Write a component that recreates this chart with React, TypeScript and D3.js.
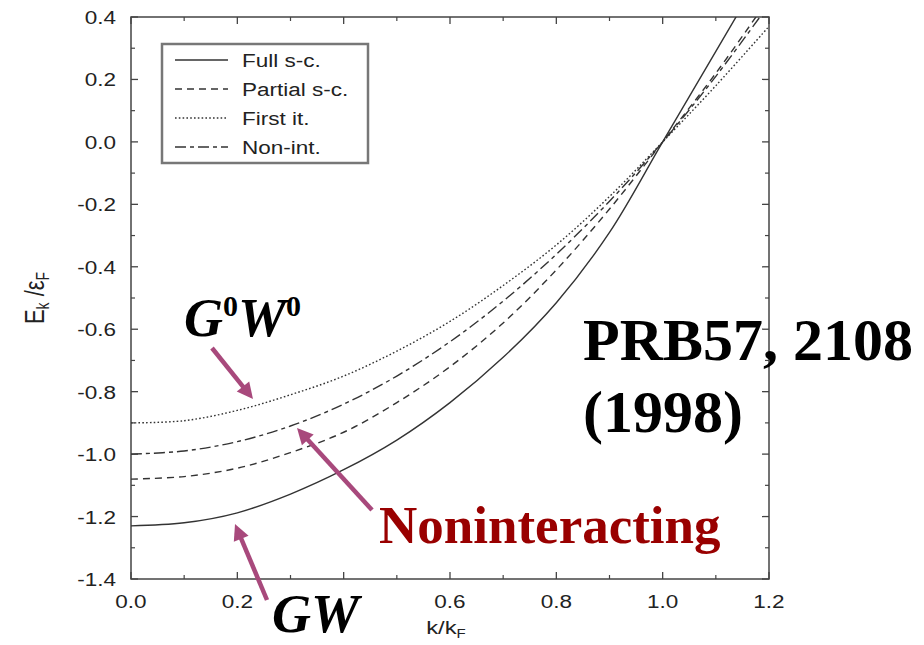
import React from "react";
import * as d3 from "d3";

const kValues = [0, 0.1, 0.2, 0.3, 0.4, 0.5, 0.6, 0.7, 0.8, 0.9, 1.0, 1.1, 1.2];
const fullSC = [-1.23, -1.22, -1.188, -1.128, -1.05, -0.955, -0.835, -0.69, -0.515, -0.29, 0.0, 0.29, 0.58];
const partialSC = [-1.08, -1.072, -1.045, -0.995, -0.93, -0.835, -0.72, -0.58, -0.41, -0.215, 0.0, 0.22, 0.46];
const firstIt = [-0.9, -0.893, -0.86, -0.81, -0.75, -0.67, -0.575, -0.46, -0.33, -0.175, 0.0, 0.18, 0.37];
const nonInt = [-1.0, -0.99, -0.96, -0.91, -0.84, -0.75, -0.64, -0.51, -0.36, -0.19, 0.0, 0.21, 0.44];

const xTickLabels = ["0.0", "0.2", "0.4", "0.6", "0.8", "1.0", "1.2"];
const yTickLabels = ["0.4", "0.2", "0.0", "-0.2", "-0.4", "-0.6", "-0.8", "-1.0", "-1.2", "-1.4"];
const legendLabels = ["Full s-c.", "Partial s-c.", "First it.", "Non-int."];

const X0 = 131, X1 = 769, Y0 = 17, Y1 = 579;
const SX = 1.25;
const ARROW = "#a8497c";

function Arrow({ x1, y1, x2, y2 }: { x1: number; y1: number; x2: number; y2: number }) {
  const ang = Math.atan2(y2 - y1, x2 - x1);
  const hl = 16, hw = 8;
  const bx = x2 - hl * Math.cos(ang), by = y2 - hl * Math.sin(ang);
  const px = -Math.sin(ang) * hw, py = Math.cos(ang) * hw;
  return (
    <g>
      <line x1={x1} y1={y1} x2={bx + Math.cos(ang) * 2} y2={by + Math.sin(ang) * 2} stroke={ARROW} strokeWidth={4.5} />
      <path d={`M${x2},${y2} L${bx + px},${by + py} L${bx - px},${by - py} Z`} fill={ARROW} />
    </g>
  );
}

export default function App() {
  const x = d3.scaleLinear().domain([0, 1.2]).range([X0, X1]);
  const y = d3.scaleLinear().domain([-1.4, 0.4]).range([Y1, Y0]);
  const line = d3
    .line<number>()
    .x((_, i) => x(kValues[i]))
    .y((d) => y(d))
    .curve(d3.curveCatmullRom.alpha(0.5));

  const series = [
    { vals: fullSC, dash: "none" },
    { vals: partialSC, dash: "7,5" },
    { vals: firstIt, dash: "1.6,2.2" },
    { vals: nonInt, dash: "11,4,4,4" },
  ];

  const xMajor = d3.range(0, 1.2001, 0.2);
  const xMinor = d3.range(0.1, 1.2, 0.2);
  const yMajor = d3.range(-1.4, 0.4001, 0.2);
  const yMinor = d3.range(-1.3, 0.4, 0.2);
  const font = "'Liberation Sans', Arial, Helvetica, sans-serif";
  const serif = "'Liberation Serif', 'Times New Roman', serif";
  const axisC = "#444";

  return (
    <svg width={924} height={645} style={{ position: "absolute", left: 0, top: 0, background: "#fff" }}>
      <defs>
        <clipPath id="plot">
          <rect x={X0} y={Y0} width={X1 - X0} height={Y1 - Y0} />
        </clipPath>
      </defs>
      <rect x={X0} y={Y0} width={X1 - X0} height={Y1 - Y0} fill="none" stroke={axisC} strokeWidth={1.5} />
      {xMajor.map((v, i) => (
        <g key={"xM" + i}>
          <line x1={x(v)} x2={x(v)} y1={Y1} y2={Y1 - 7} stroke={axisC} strokeWidth={1.3} />
          <line x1={x(v)} x2={x(v)} y1={Y0} y2={Y0 + 7} stroke={axisC} strokeWidth={1.3} />
        </g>
      ))}
      {xMinor.map((v, i) => (
        <g key={"xm" + i}>
          <line x1={x(v)} x2={x(v)} y1={Y1} y2={Y1 - 4} stroke={axisC} strokeWidth={1.2} />
          <line x1={x(v)} x2={x(v)} y1={Y0} y2={Y0 + 4} stroke={axisC} strokeWidth={1.2} />
        </g>
      ))}
      {yMajor.map((v, i) => (
        <g key={"yM" + i}>
          <line x1={X0} x2={X0 + 7} y1={y(v)} y2={y(v)} stroke={axisC} strokeWidth={1.3} />
          <line x1={X1} x2={X1 - 7} y1={y(v)} y2={y(v)} stroke={axisC} strokeWidth={1.3} />
        </g>
      ))}
      {yMinor.map((v, i) => (
        <g key={"ym" + i}>
          <line x1={X0} x2={X0 + 4} y1={y(v)} y2={y(v)} stroke={axisC} strokeWidth={1.2} />
          <line x1={X1} x2={X1 - 4} y1={y(v)} y2={y(v)} stroke={axisC} strokeWidth={1.2} />
        </g>
      ))}
      {xTickLabels.map((t, i) =>
        t === "0.4" ? null : (
          <text
            key={"xt" + i}
            transform={`translate(${x(+t)},${Y1 + 29}) scale(${SX},1)`}
            textAnchor="middle"
            fontFamily={font}
            fontSize={18}
            fill="#222"
          >
            {t}
          </text>
        )
      )}
      {yTickLabels.map((t, i) => (
        <text
          key={"yt" + i}
          transform={`translate(${X0 - 15},${y(+t) + 7}) scale(${SX},1)`}
          textAnchor="end"
          fontFamily={font}
          fontSize={18}
          fill="#222"
        >
          {t}
        </text>
      ))}
      <text transform={`translate(446,634) scale(${SX},1)`} textAnchor="middle" fontFamily={font} fontSize={19} fill="#222">
        k/k<tspan fontSize={12} dy={4}>F</tspan>
      </text>
      <text transform={`translate(44,298) rotate(-90) scale(1,${SX})`} textAnchor="middle" fontFamily={font} fontSize={22} fill="#222">
        E<tspan fontSize={14} dy={4}>k</tspan>
        <tspan dy={-4}> /ε</tspan>
        <tspan fontSize={14} dy={4}>F</tspan>
      </text>
      <g clipPath="url(#plot)">
        {series.map((s, i) => (
          <path
            key={"s" + i}
            d={line(s.vals) || ""}
            fill="none"
            stroke="#333"
            strokeWidth={1.4}
            strokeDasharray={s.dash}
          />
        ))}
      </g>
      <rect x={162} y={44} width={206} height={119} fill="#fff" stroke="#777" strokeWidth={2.5} />
      {legendLabels.map((lab, i) => {
        const ly = 60 + i * 29;
        return (
          <g key={"lg" + i}>
            <line x1={175} x2={228} y1={ly} y2={ly} stroke="#333" strokeWidth={1.4} strokeDasharray={series[i].dash} />
            <text transform={`translate(242,${ly + 7}) scale(${SX},1)`} fontFamily={font} fontSize={18} fill="#222">
              {lab}
            </text>
          </g>
        );
      })}
      <text x={184} y={336} fontFamily={serif} fontWeight="bold" fontStyle="italic" fontSize={54} fill="#000">
        G<tspan fontStyle="normal" fontSize={30} dy={-20}>0</tspan>
        <tspan dy={20}>W</tspan>
        <tspan fontStyle="normal" fontSize={30} dy={-20}>0</tspan>
      </text>
      <Arrow x1={212} y1={348} x2={253} y2={399} />
      <text x={272} y={632} fontFamily={serif} fontWeight="bold" fontStyle="italic" fontSize={54} fill="#000">
        GW
      </text>
      <Arrow x1={267} y1={600} x2={235} y2={524} />
      <text x={379} y={543} fontFamily={serif} fontWeight="bold" fontSize={53} fill="#990000">
        Noninteracting
      </text>
      <Arrow x1={372} y1={510} x2={297} y2={428} />
      <text x={583} y={360} fontFamily={serif} fontWeight="bold" fontSize={60} fill="#000">
        PRB57, 2108
      </text>
      <text x={583} y={432} fontFamily={serif} fontWeight="bold" fontSize={60} fill="#000">
        (1998)
      </text>
    </svg>
  );
}
